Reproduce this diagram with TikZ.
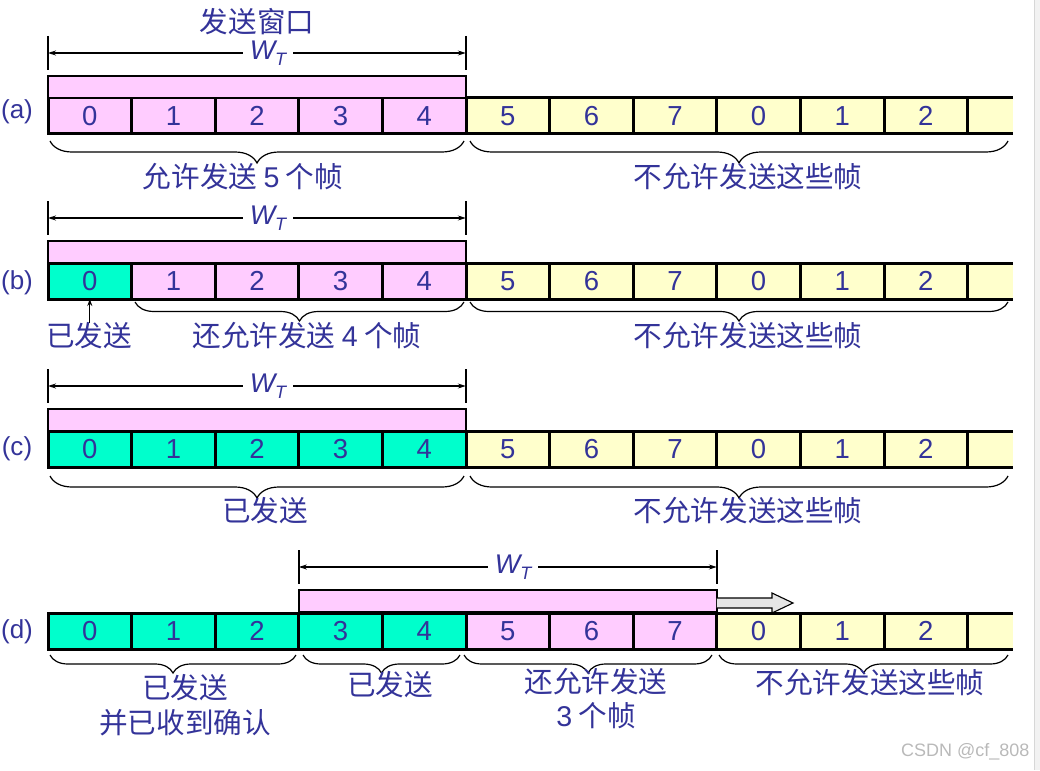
\documentclass[tikz,border=0pt]{standalone}
\usepackage{fontspec}
\setmainfont{Liberation Sans}
\newfontfamily\cjk{Noto Sans CJK SC}
\usetikzlibrary{arrows.meta,decorations.pathreplacing}
\definecolor{txt}{RGB}{51,51,153}
\definecolor{pinkc}{RGB}{255,204,255}
\definecolor{yelc}{RGB}{255,255,204}
\definecolor{tealc}{RGB}{0,255,204}
\definecolor{wmc}{RGB}{185,185,185}
\definecolor{stripc}{RGB}{242,242,242}
\definecolor{stripe}{RGB}{215,215,215}
\newcommand\cellrow[3]{%
  \node[lastcell] (#111) at (967.6,#2) {};
  \draw[rowline] (#111.north west) -- (#111.north east) (#111.south west) -- (#111.south east);
  \foreach \col/\lab [count=\i from 0] in {#3} {\node[cell, fill=\col] (#1\i) at ({48+83.6*\i},#2) {\lab};}%
}
\newcommand\window[5]{% #1 name, #2 xl, #3 xr, #4 bar top y, #5 label x
  \node[bar, minimum width={#3-#2}] (bar#1) at (#2,#4) {};
  \coordinate (#1L) at (#2,#4-23);
  \coordinate (#1R) at (#3,#4-23);
  \draw[tick] (#2,#4-40) -- (#2,#4-6);
  \draw[tick] (#3,#4-40) -- (#3,#4-6);
  \draw[dim] (#1L) -- (#1R);
  \node[wt] (wt#1) at (#5,#4-23) {W\raisebox{-0.45ex}{\fontsize{18}{18}\selectfont T}};
}
\begin{document}
\begin{tikzpicture}[x=1pt,y=-1pt,
  cell/.style={draw=black, line width=3pt, minimum width=83.6pt, minimum height=36pt,
    inner sep=0pt, outer sep=0pt, anchor=north west, text=txt, font=\fontsize{27.5}{30}\selectfont},
  lastcell/.style={fill=yelc, minimum width=45.4pt, minimum height=36pt, inner sep=0pt,
    outer sep=0pt, anchor=north west},
  rowline/.style={line width=3pt, black},
  bar/.style={draw=black, line width=2.6pt, fill=pinkc, minimum height=22pt, inner sep=0pt,
    outer sep=0pt, anchor=north west},
  tick/.style={line width=1.5pt, black},
  dim/.style={line width=1.1pt, black, {Stealth[length=8pt,width=5pt]}-{Stealth[length=8pt,width=5pt]}},
  wt/.style={fill=white, inner xsep=7pt, inner ysep=1pt, text=txt, font=\fontsize{27}{27}\selectfont\itshape},
  lab/.style={text=txt, font=\fontsize{28.6}{32}\selectfont\cjk, inner sep=0pt},
  rowlab/.style={text=txt, font=\fontsize{26}{30}\selectfont, inner sep=0pt},
  brc/.style={decorate, decoration={brace, mirror, amplitude=#1}, line width=1.2pt, black},
  brc/.default=21pt
]
\useasboundingbox (0,0) rectangle (1040,770);
% ---------- (a)
\node[rowlab] (la) at (17,112) {(a)};
\node[lab] (ta) at (257,22) {发送窗口};
\cellrow{a}{98}{pinkc/0,pinkc/1,pinkc/2,pinkc/3,pinkc/4,yelc/5,yelc/6,yelc/7,yelc/0,yelc/1,yelc/2}
\window{a}{48}{465.8}{76}{268}
\draw[brc=22pt] (50,141) -- (464,141);
\draw[brc=22pt] (470,141) -- (1008,141);
\node[lab] (a1t) at (243,177) {允许发送 {\rmfamily 5} 个帧};
\node[lab] (a2t) at (748,177) {不允许发送这些帧};
% ---------- (b)
\node[rowlab] (lb) at (17,283) {(b)};
\cellrow{b}{263}{tealc/0,pinkc/1,pinkc/2,pinkc/3,pinkc/4,yelc/5,yelc/6,yelc/7,yelc/0,yelc/1,yelc/2}
\window{b}{48}{465.8}{241}{268}
\draw[brc=19pt] (135,302) -- (464,302);
\draw[brc=19pt] (470,302) -- (1008,302);
\node[lab] (b0t) at (89,336) {已发送};
\coordinate (b0a) at (89.8,323);
\draw[line width=1.2pt, -{Stealth[length=7pt,width=5pt]}] (b0a) -- (b0.south);
\node[lab] (b1t) at (307,336) {还允许发送 {\rmfamily 4} 个帧};
\node[lab] (b2t) at (748,336) {不允许发送这些帧};
% ---------- (c)
\node[rowlab] (lc) at (17,449) {(c)};
\cellrow{c}{431}{tealc/0,tealc/1,tealc/2,tealc/3,tealc/4,yelc/5,yelc/6,yelc/7,yelc/0,yelc/1,yelc/2}
\window{c}{48}{465.8}{409}{268}
\draw[brc=22pt] (50,476) -- (464,476);
\draw[brc=22pt] (470,476) -- (1008,476);
\node[lab] (c1t) at (265,511) {已发送};
\node[lab] (c2t) at (748,511) {不允许发送这些帧};
% ---------- (d)
\node[rowlab] (ld) at (17,632) {(d)};
\cellrow{d}{613}{tealc/0,tealc/1,tealc/2,tealc/3,tealc/4,pinkc/5,pinkc/6,pinkc/7,yelc/0,yelc/1,yelc/2}
\window{d}{298.8}{716.8}{590}{513}
\draw[line width=1.1pt, fill=black!10] (716.8,598) -- (772,598) -- (772,593) -- (793,603)
  -- (772,613) -- (772,608) -- (716.8,608);
\draw[brc=18pt] (50,655) -- (296,655);
\draw[brc=18pt] (303,655) -- (460,655);
\draw[brc=18pt] (464,655) -- (712,655);
\draw[brc=18pt] (719,655) -- (1008,655);
\node[lab] (d1t) at (185,688) {已发送};
\node[lab] (d1u) at (185,723) {并已收到确认};
\node[lab] (d2t) at (390,685) {已发送};
\node[lab] (d3t) at (596,682) {还允许发送};
\node[lab] (d3u) at (596,716) {{\rmfamily 3} 个帧};
\node[lab] (d4t) at (870,683) {不允许发送这些帧};
% ---------- watermark and edge
\node[text=wmc, font=\fontsize{18}{18}\selectfont, anchor=west, inner sep=0pt] (wm) at (901,752) {CSDN @cf\_808};
\fill[stripc] (1034,0) rectangle (1040,770);
\draw[stripe, line width=0.8pt] (1034,0) -- (1034,770);
\end{tikzpicture}
\end{document}
